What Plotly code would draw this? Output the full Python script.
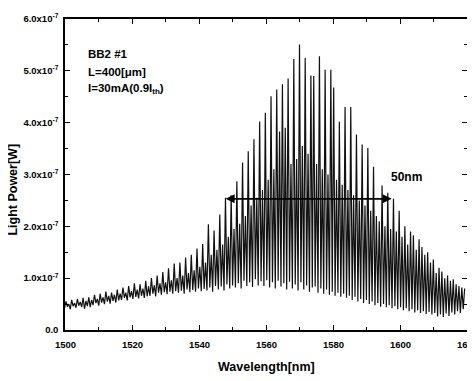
import numpy as np
import plotly.graph_objects as go

# Mode peak and valley powers (units of 1e-7 W), one value per longitudinal mode
# modes at 1500.3 + 0.85*k nm, valleys half a mode spacing before each peak
peaks = [
    0.55, 0.50, 0.58, 0.52, 0.60, 0.54, 0.62, 0.56, 0.63, 0.58,
    0.68, 0.60, 0.70, 0.63, 0.74, 0.66, 0.72, 0.68, 0.78, 0.70,
    0.82, 0.72, 0.85, 0.75, 0.90, 0.78, 0.88, 0.80, 0.95, 0.84,
    1.00, 0.86, 1.05, 0.90, 1.12, 0.92, 1.19, 0.96, 1.28, 1.00,
    1.30, 1.05, 1.40, 1.10, 1.45, 1.15, 1.57, 1.22, 1.66, 1.30,
    2.04, 1.45, 1.92, 1.55, 2.23, 1.65, 2.55, 1.80, 2.60, 1.95,
    2.87, 2.05, 3.23, 2.20, 3.45, 2.40, 3.68, 2.55, 4.02, 2.70,
    4.19, 2.90, 4.51, 3.10, 4.64, 3.83, 4.74, 3.90, 4.85, 3.20,
    5.23, 3.30, 5.51, 3.55, 5.25, 3.40, 4.91, 4.90, 3.20, 5.28,
    3.10, 5.02, 3.00, 5.02, 4.68, 2.90, 4.02, 2.80, 4.30, 2.70,
    4.30, 2.60, 3.77, 2.50, 3.58, 2.40, 3.51, 2.30, 3.15, 2.20,
    2.10, 2.79, 2.00, 2.65, 1.95, 2.53, 1.90, 2.30, 1.80, 2.00,
    1.65, 1.90, 1.83, 1.55, 1.75, 1.60, 1.45, 1.50, 1.30, 1.36,
    1.10, 1.20, 1.13, 1.00, 1.05, 0.95, 0.98, 0.88, 0.85, 0.82,
    0.80,
]
valleys = [
    0.42, 0.45, 0.40, 0.46, 0.43, 0.47, 0.44, 0.41, 0.46, 0.44,
    0.48, 0.52, 0.47, 0.53, 0.50, 0.55, 0.51, 0.56, 0.53, 0.57,
    0.58, 0.62, 0.57, 0.63, 0.60, 0.64, 0.61, 0.66, 0.62, 0.65,
    0.66, 0.70, 0.65, 0.72, 0.68, 0.73, 0.69, 0.74, 0.70, 0.75,
    0.72, 0.76, 0.70, 0.78, 0.73, 0.77, 0.74, 0.80, 0.75, 0.79,
    0.76, 0.82, 0.74, 0.85, 0.78, 0.84, 0.76, 0.88, 0.80, 0.86,
    0.82, 0.90, 0.80, 0.95, 0.85, 0.92, 0.83, 0.98, 0.86, 0.94,
    0.85, 0.96, 0.82, 0.92, 0.80, 0.95, 0.84, 0.90, 0.78, 0.93,
    0.80, 0.88, 0.76, 0.92, 0.78, 0.86, 0.74, 0.82, 0.84, 0.72,
    0.80, 0.70, 0.78, 0.68, 0.74, 0.66, 0.72, 0.64, 0.70, 0.62,
    0.66, 0.58, 0.64, 0.55, 0.60, 0.52, 0.58, 0.50, 0.55, 0.48,
    0.52, 0.45, 0.50, 0.44, 0.48, 0.42, 0.46, 0.40, 0.44, 0.38,
    0.42, 0.36, 0.40, 0.34, 0.38, 0.33, 0.36, 0.31, 0.35, 0.30,
    0.33, 0.26, 0.30, 0.25, 0.32, 0.27, 0.34, 0.30, 0.36, 0.33,
    0.40,
]
x_ticks = [1500, 1520, 1540, 1560, 1580, 1600, 1620]
y_ticks = [0, 1, 2, 3, 4, 5, 6]
y_ticktext = ["0.0"] + [f"{v}.0x10<sup>-7</sup>" for v in y_ticks[1:]]
info_lines = ["BB2 #1", "L=400[μm]", "I=30mA(0.9I<sub>th</sub>)"]

# sample positions: valley then peak for each mode
n_modes = len(peaks)
wl = 1499.875 + 0.425 * np.arange(2 * n_modes)
power = np.empty(2 * n_modes)
power[0::2] = valleys
power[1::2] = peaks

fig = go.Figure()
fig.add_trace(go.Scatter(x=wl, y=power, mode="lines",
                         line=dict(color="#111111", width=1.2),
                         showlegend=False, hoverinfo="skip"))

font_family = "Arial, Liberation Sans, Helvetica, sans-serif"
axis_common = dict(showline=True, linecolor="black", linewidth=1.5, mirror="ticks",
                   ticks="inside", ticklen=5, tickwidth=1.3, tickcolor="black",
                   showgrid=False, zeroline=False)

def bold(size):
    return dict(family=font_family, size=size, color="black", weight="bold")

annotations = []
# x tick labels (drawn at the axis tick values; 1620 runs off the page edge as in the source)
for v in x_ticks:
    annotations.append(dict(text=str(v), x=v, y=-0.047, xref="x", yref="paper",
                            xanchor="center", yanchor="middle", showarrow=False, font=bold(9.5)))
annotations.append(dict(text="Wavelength[nm]", x=0.5, y=-0.118, xref="paper", yref="paper",
                        xanchor="center", yanchor="middle", showarrow=False, font=bold(12.5)))
annotations.append(dict(text="Light Power[W]", textangle=-90, xref="paper", yref="paper",
                        x=-0.128, y=0.45, xanchor="center", yanchor="middle",
                        showarrow=False, font=bold(12.5)))
for i, t in enumerate(info_lines):
    annotations.append(dict(text=t, xref="paper", yref="paper", x=0.052, y=0.888 - i * 0.057,
                            xanchor="left", yanchor="middle", align="left", showarrow=False,
                            font=bold(11.5)))
annotations.append(dict(text="50nm", x=1596.8, y=2.96, xref="x", yref="y", xanchor="left",
                        yanchor="middle", showarrow=False, font=bold(12)))
annotations.append(dict(text="", x=1597.5, y=2.53, ax=1547.5, ay=2.53, xref="x", yref="y",
                        axref="x", ayref="y", showarrow=True, arrowhead=2, arrowside="end+start",
                        arrowwidth=1.8, arrowsize=1, arrowcolor="black"))

fig.update_layout(
    width=467, height=373,
    margin=dict(l=57, r=8, t=4, b=51),
    paper_bgcolor="white", plot_bgcolor="white",
    xaxis=dict(range=[1500, 1620], tickvals=x_ticks, showticklabels=False,
               minor=dict(ticks="inside", ticklen=3, tickcolor="black", dtick=10, tick0=1500),
               **axis_common),
    yaxis=dict(range=[0, 6], tickvals=y_ticks, ticktext=y_ticktext,
               ticklabelstandoff=3, tickfont=bold(9.5), ticklabeloverflow="allow",
               minor=dict(ticks="inside", ticklen=3, tickcolor="black", dtick=0.5, tick0=0),
               **axis_common),
    annotations=annotations,
)

fig.write_html("out.html")
